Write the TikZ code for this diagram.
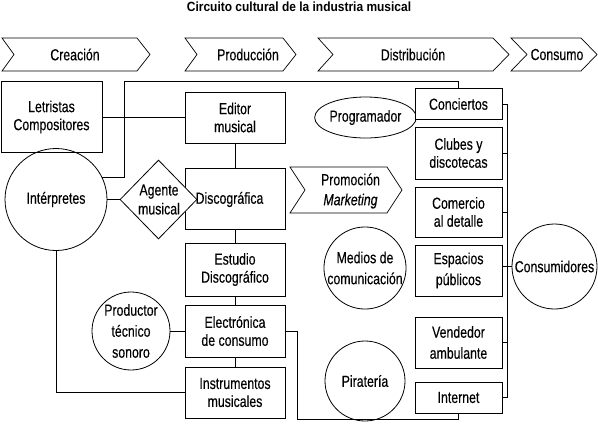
\documentclass[tikz,border=0pt]{standalone}
\usepackage{fontspec}
\setmainfont{Liberation Sans}[FakeStretch=0.77,FakeBold=0.25]
\newfontfamily\titlefont{Liberation Sans Bold}[FakeStretch=0.9]
\usetikzlibrary{shapes.geometric}
\begin{document}
\begin{tikzpicture}[x=1pt,y=-1pt,line width=0.8pt,
  every node/.style={font=\fontsize{16}{18}\selectfont,align=center,inner sep=0pt},
  box/.style={draw,rectangle,fill=white},
  circ/.style={draw,circle},
  chev/.style={draw,line width=0.7pt,line join=miter},
  wide/.style={font=\fontsize{16}{21}\selectfont}]
\useasboundingbox (0,0) rectangle (598,429);
% title
\node[font=\titlefont\fontsize{13.3}{15}\selectfont] (title) at (299,7) {Circuito cultural de la industria musical};
% stage chevrons
\draw[chev] (2,38) -- (137,38) -- (150,54.5) -- (137,71) -- (2,71) -- (14,54.5) -- cycle;
\node (creacion) at (75,54.5) {Creación};
\draw[chev] (185,38) -- (283,38) -- (296,54.5) -- (283,71) -- (185,71) -- (197,54.5) -- cycle;
\node (produccion) at (248,54.5) {Producción};
\draw[chev] (318,38) -- (493,38) -- (509,54.5) -- (493,71) -- (318,71) -- (333,54.5) -- cycle;
\node (distribucion) at (413,54.5) {Distribución};
\draw[chev] (511,38) -- (581,38) -- (597,54.5) -- (581,71) -- (511,71) -- (527,54.5) -- cycle;
\node (consumo) at (557,54.5) {Consumo};
\draw[chev] (290,167) -- (387,167) -- (402,190) -- (387,213) -- (290,213) -- (305,190) -- cycle;
\node[font=\fontsize{16}{20}\selectfont] (promo) at (350.5,191) {Promoción\\\textit{Marketing}};
% creation / production nodes
\node[box,minimum width=101pt,minimum height=71pt] (letr) at (51.5,117) {Letristas\\Compositores};
\node[box,minimum width=100pt,minimum height=51pt] (editor) at (235,117.5) {Editor\\musical};
\node[box,minimum width=100pt,minimum height=61pt] (disco) at (235,198.5) {};
\node (discot) at (229.5,199.5) {Discográfica};
\node[box,minimum width=100pt,minimum height=53pt] (estudio) at (235,269.5) {Estudio\\Discográfico};
\node[box,minimum width=100pt,minimum height=52pt] (elec) at (235,331) {Electrónica\\de consumo};
\node[box,minimum width=100pt,minimum height=51pt] (instr) at (235,392.5) {Instrumentos\\musicales};
\node[circ,minimum size=102pt] (interp) at (56,199.5) {Intérpretes};
\node[draw,diamond,fill=white,minimum width=77pt,minimum height=79pt] (agente) at (158.5,199.5) {};
\node[font=\fontsize{16}{19}\selectfont] (agentet) at (159,199.5) {Agente\\musical};
\node[circ,wide,minimum size=78pt] (prod) at (131,331) {Productor\\técnico\\sonoro};
% distribution nodes
\node[draw,ellipse,minimum width=90pt,minimum height=41pt] (prog) at (365.5,117.5) {Programador};
\node[circ,wide,minimum size=80pt] (medios) at (365,268) {Medios de\\comunicación};
\node[circ,minimum size=80pt] (pirat) at (365,381) {Piratería};
\node[box,minimum width=87pt,minimum height=31pt] (conc) at (458.5,104) {Conciertos};
\node[box,minimum width=87pt,minimum height=52pt] (club) at (458.5,153) {Clubes y\\discotecas};
\node[box,minimum width=87pt,minimum height=50pt] (com) at (458.5,212) {Comercio\\al detalle};
\node[box,wide,minimum width=87pt,minimum height=51pt] (esp) at (458.5,270.5) {Espacios\\públicos};
\node[box,wide,minimum width=87pt,minimum height=51pt] (vend) at (458.5,342.5) {Vendedor\\ambulante};
\node[box,minimum width=87pt,minimum height=31pt] (inet) at (458.5,397.5) {Internet};
\node[circ,minimum size=85pt] (cons) at (554.5,266.5) {Consumidores};
% connectors
\coordinate (j2) at (124,81);
\coordinate (e1) at (297,419);
\coordinate (bus) at (507,0);
\draw (letr.east) -- (letr.east -| editor.west);
\draw (interp.26) -| (j2) -| (conc.north);
\draw (interp.east) -- (agente.west);
\draw (interp.south) |- (instr.west);
\draw (editor.south) -- (disco.north);
\draw (disco.south) -- (estudio.north);
\draw (estudio.south) -- (elec.north);
\draw (elec.south) -- (instr.north);
\draw (prod.east) -- (elec.west);
\draw (elec.east) -| (e1) -| (inet.south);
\draw (conc.east -| bus) -- (inet.east -| bus);
\foreach \n in {conc,club,com,vend,inet} \draw (\n.east) -- (\n.east -| bus);
\draw (cons.west -| esp.east) -- (cons.west);
\end{tikzpicture}
\end{document}
